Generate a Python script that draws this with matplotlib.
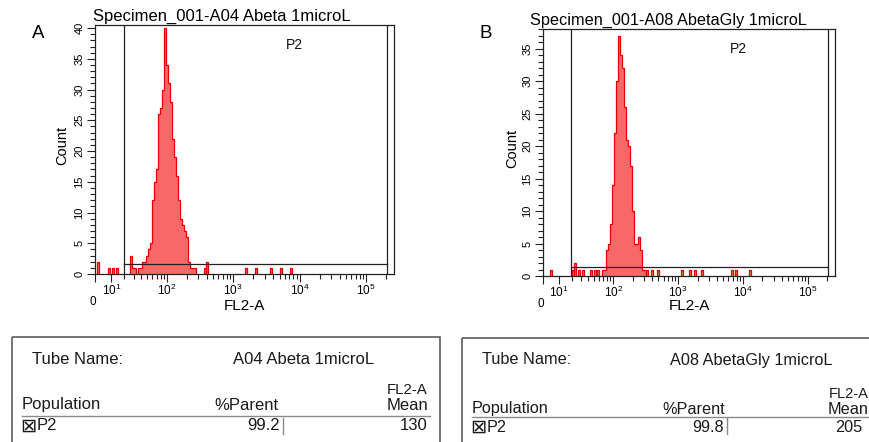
import numpy as np
import matplotlib
matplotlib.use("Agg")
import matplotlib.pyplot as plt
from matplotlib.lines import Line2D
from matplotlib.patches import Rectangle

# ---------------- data ----------------
panel_letters = ["A", "B"]
titles = ["Specimen_001-A04 Abeta 1microL", "Specimen_001-A08 AbetaGly 1microL"]
tube_names = ["A04 Abeta 1microL", "A08 AbetaGly 1microL"]
gate_name = "P2"
pct_parent = ["99.2", "99.8"]
fl2a_mean = ["130", "205"]

# histogram bins (FL2-A bin centre) and counts, panel A
peak_fl2a_a = [26.6, 28.9, 31.3, 33.9, 36.6, 39.5, 42.5, 45.7, 49.1, 52.8, 56.7,
               61.0, 65.5, 70.4, 75.6, 81.1, 87.0, 93.4, 100, 107.5, 115.2,
               123.6, 132.5, 142, 152, 163, 175, 188, 201, 216, 231, 248, 265]
peak_count_a = [3, 1, 1, 0, 1, 1, 2, 2, 3, 4, 5,
                12, 15, 17, 26, 27, 30, 40, 34, 31, 28,
                22, 19, 16, 12, 9, 8, 7, 6, 2, 1, 1, 1]
event_fl2a_a = [2, 8.6, 11, 14, 375, 402, 1550, 2190, 3680, 5200, 7350]
event_count_a = [2, 1, 1, 1, 1, 2, 1, 1, 1, 1, 1]

# panel B
peak_fl2a_b = [69.5, 74.8, 80.4, 86.4, 92.9, 99.8, 107.3, 115.2, 123.8, 133,
               142.9, 153.4, 164.8, 176.9, 190, 203.9, 218.9, 235, 252.5, 271,
               291, 312.5]
peak_count_b = [1, 1, 4, 5, 8, 14, 22, 30, 37, 34,
                32, 26, 21, 20, 17, 10, 5, 5, 6, 4,
                1, 1]
event_fl2a_b = [4.6, 21.5, 23.4, 27.6, 32.6, 44.6, 51.8, 57.8, 335, 401, 496,
                1160, 1540, 1840, 2360, 6840, 7880, 12900]
event_count_b = [1, 1, 2, 1, 1, 1, 1, 1, 1, 1, 1,
                 1, 1, 1, 1, 1, 1, 1]

# P2 gate (FL2-A range) and its marker level (count)
gate_lo = [20, 19]
gate_hi = [205000, 202000]
gate_level = [1.6, 1.4]

x_max = 262144
y_max = [40.5, 38.0]
x_major = [10, 100, 1000, 10000, 100000]
x_major_labels = ["$10^{1}$", "$10^{2}$", "$10^{3}$", "$10^{4}$", "$10^{5}$"]

# ---------------- style ----------------
SCALE_C = 16.7
FILL = "#f96868"
EDGE = "#e80000"
FONT = "Liberation Sans"
plt.rcParams["font.family"] = [FONT, "DejaVu Sans"]
plt.rcParams["mathtext.fontset"] = "custom"
plt.rcParams["mathtext.rm"] = FONT
plt.rcParams["mathtext.default"] = "regular"

W, H = 870, 442
fig = plt.figure(figsize=(W / 100, H / 100), dpi=100)


def fwd(x):
    return np.arcsinh(np.asarray(x, dtype=float) / SCALE_C)


def inv(y):
    return SCALE_C * np.sinh(np.asarray(y, dtype=float))


def edges_from_centres(c):
    t = fwd(c)
    mids = (t[1:] + t[:-1]) / 2
    e = np.concatenate([[t[0] - (t[1] - t[0]) / 2], mids, [t[-1] + (t[-1] - t[-2]) / 2]])
    return inv(e)


boxes = [(95, 394, 25, 274), (543, 835, 29, 276)]
count_x = [62, 512]
peaks = [(peak_fl2a_a, peak_count_a), (peak_fl2a_b, peak_count_b)]
events = [(event_fl2a_a, event_count_a), (event_fl2a_b, event_count_b)]

for i in range(2):
    l, r, t, b = boxes[i]
    ax = fig.add_axes([l / W, (H - b) / H, (r - l) / W, (b - t) / H])
    ax.set_xscale("function", functions=(fwd, inv))
    ax.set_xlim(0, x_max)
    ax.set_ylim(0, y_max[i])

    # histogram
    pc, pn = peaks[i]
    ed = edges_from_centres(pc)
    ax.stairs(pn, ed, fill=True, color=FILL, zorder=2)
    ax.stairs(pn, ed, color=EDGE, lw=0.9, zorder=3)
    half = 1.0 / ((r - l) / float(fwd(x_max)))
    for v, n in zip(*events[i]):
        tv = float(fwd(v))
        e2 = inv([tv - half, tv + half])
        ax.stairs([n], e2, fill=True, color=FILL, zorder=2)
        ax.stairs([n], e2, color=EDGE, lw=0.9, zorder=3)

    # gate marker
    ax.axvline(gate_lo[i], color="#222222", lw=0.9, zorder=4)
    ax.axvline(gate_hi[i], color="#222222", lw=0.9, zorder=4)
    ax.plot([gate_lo[i], gate_hi[i]], [gate_level[i], gate_level[i]], color="#222222", lw=0.9, zorder=4)
    ax.text(0.668, 0.918, gate_name, transform=ax.transAxes, ha="center", va="center",
            fontsize=10, color="#111111")

    # axes styling
    for s in ax.spines.values():
        s.set_linewidth(0.9)
        s.set_color("#222222")
    ax.set_xticks([0] + x_major)
    ax.set_xticklabels([""] + x_major_labels, fontsize=8.5)
    minor = [k * 10 ** d for d in range(1, 6) for k in range(2, 10) if k * 10 ** d < x_max]
    ax.set_xticks(minor, minor=True)
    ax.set_yticks(np.arange(0, y_max[i] + 0.01, 5))
    ax.set_yticks(np.arange(0, y_max[i] + 0.01, 1), minor=True)
    ax.tick_params(axis="both", which="major", direction="out", length=6, width=0.8,
                   color="#222222", pad=0.5)
    ax.tick_params(axis="both", which="minor", direction="out", length=3.8, width=0.8,
                   color="#222222")
    ax.tick_params(axis="y", labelsize=8, pad=1.5)
    for lab in ax.get_yticklabels():
        lab.set_rotation(90)
        lab.set_va("center")
    ax.annotate("0", xy=(0, 0), xycoords=("data", "axes fraction"), xytext=(-1.5, -20.5),
                textcoords="offset points", ha="center", va="center", fontsize=8.5)
    ax.text(0.5, -(306.5 - b) / (b - t), "FL2-A",
            transform=ax.transAxes, ha="center", va="center", fontsize=11)
    ax.text(-(l - count_x[i]) / (r - l), 0.515, "Count", transform=ax.transAxes, rotation=90,
            ha="center", va="center", fontsize=10.5)

# ---------------- figure-level text & tables (pixel overlay) ----------------
ov = fig.add_axes([0, 0, 1, 1])
ov.set_xlim(0, W)
ov.set_ylim(H, 0)
ov.axis("off")
ov.patch.set_alpha(0)

ov.text(38, 33, panel_letters[0], fontsize=13.5, ha="center", va="center")
ov.text(486, 33, panel_letters[1], fontsize=13.5, ha="center", va="center")
ov.text(222, 16, titles[0], fontsize=12, ha="center", va="center")
ov.text(668, 20, titles[1], fontsize=11.7, ha="center", va="center")

TC = "#1a1a1a"
TS = [12, 11.7]
tables = [
    dict(box=(12, 337, 440), tube=(32, 360), tname=(304, 360), fl=(428, 390),
         pop=(22, 405), pct=(279, 405), mean=(428, 405), line=(22, 430, 416),
         chk=(28, 426), p2=(37, 426), val=(280, 426), sep=283, mv=(428, 426)),
    dict(box=(462, 338, 880), tube=(482, 360), tname=(751, 360), fl=(869, 394),
         pop=(472, 409), pct=(725, 409), mean=(869, 409), line=(472, 880, 417),
         chk=(478, 427), p2=(487, 427), val=(724, 427), sep=727, mv=(862, 427)),
]
for i, tb in enumerate(tables):
    ts = TS[i]
    x0, y0, x1 = tb["box"]
    ov.add_patch(Rectangle((x0, y0), x1 - x0, 120, fill=False, ec="#505050", lw=1.1))
    ov.text(*tb["tube"], "Tube Name:", fontsize=ts, ha="left", va="center", color=TC)
    ov.text(*tb["tname"], tube_names[i], fontsize=ts, ha="center", va="center", color=TC)
    ov.text(*tb["fl"], "FL2-A", fontsize=ts - 1.2, ha="right", va="center", color=TC)
    ov.text(*tb["pop"], "Population", fontsize=ts, ha="left", va="center", color=TC)
    ov.text(*tb["pct"], "%Parent", fontsize=ts, ha="right", va="center", color=TC)
    ov.text(*tb["mean"], "Mean", fontsize=ts, ha="right", va="center", color=TC)
    lx0, lx1, ly = tb["line"]
    ov.add_line(Line2D([lx0, lx1], [ly, ly], color="#8a8a8a", lw=1))
    ov.text(*tb["chk"], "\u22a0", fontsize=14, ha="center", va="center", color=TC,
            family="DejaVu Sans")
    ov.text(*tb["p2"], gate_name, fontsize=ts, ha="left", va="center", color=TC)
    ov.text(*tb["val"], pct_parent[i], fontsize=ts, ha="right", va="center", color=TC)
    ov.add_line(Line2D([tb["sep"], tb["sep"]], [418, 434], color="#8a8a8a", lw=1))
    ov.text(*tb["mv"], fl2a_mean[i], fontsize=ts, ha="right", va="center", color=TC)

fig.savefig("out.png", dpi=100)
